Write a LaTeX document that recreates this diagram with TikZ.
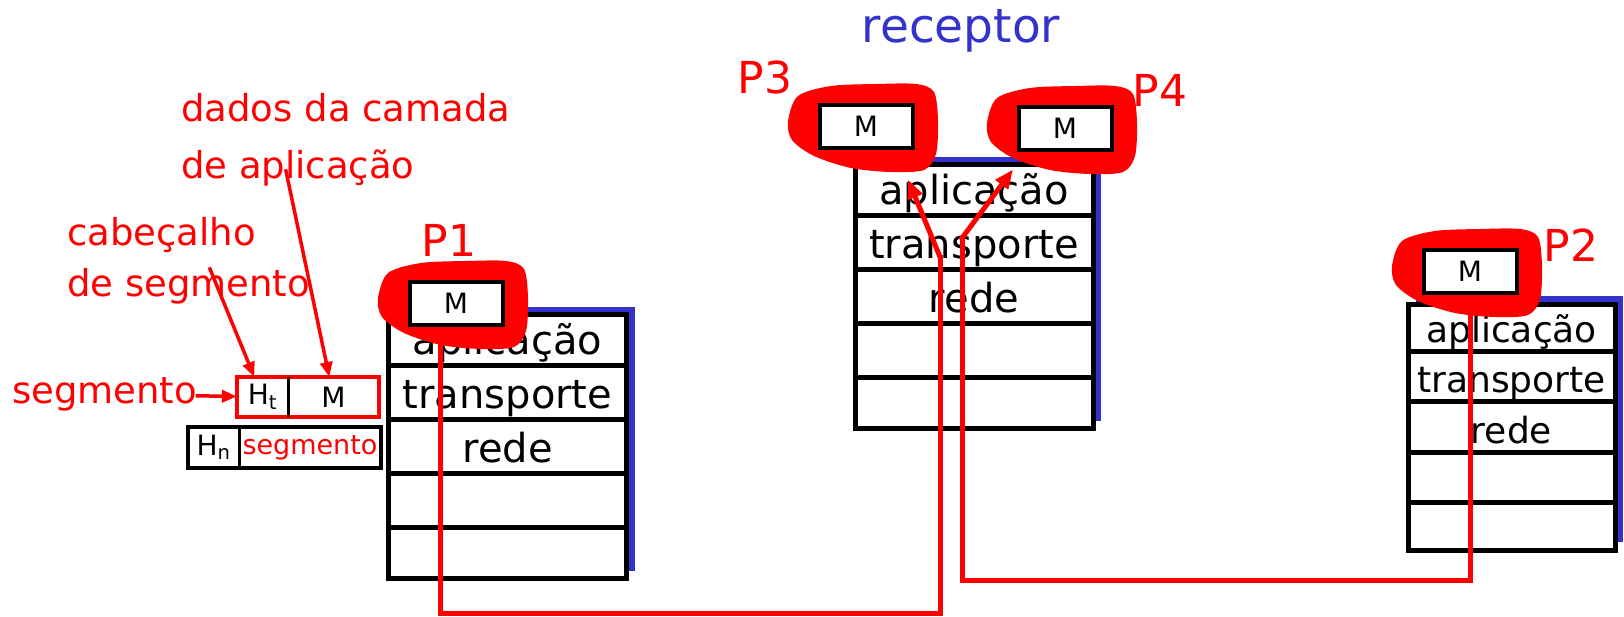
\documentclass[tikz,border=0pt]{standalone}
\usepackage{fontspec}
\setmainfont{DejaVu Sans}
\usepackage{tikz}
\usetikzlibrary{
  arrows.meta,
  chains,
  calc,
  positioning,
  scopes,
  shadows
}
\definecolor{stackblue}{RGB}{51,51,204}

\begin{document}
\begin{tikzpicture}[
      x=1pt, y=-1pt,
      stack/.style={
         rectangle,
         draw=black,
         line width=5pt,
         fill=white,
         minimum width=238pt,
         minimum height=264pt,
         inner sep=0pt,
         general shadow={fill=stackblue, shadow xshift=8pt, shadow yshift=8pt}
      },
      small stack/.style={
         stack,
         minimum width=207pt,
         minimum height=246pt
      },
      rowline/.style={line width=5pt},
      layertext/.style={inner sep=0pt, anchor=base},
      msg/.style={
         rectangle,
         draw=black,
         line width=4pt,
         fill=white,
         minimum width=93pt,
         minimum height=43pt,
         inner sep=0pt,
         font=\fontsize{28}{28}\selectfont
      },
      blob/.style={fill=red},
      proc/.style={text=red, inner sep=0pt, font=\fontsize{44}{44}\selectfont},
      note/.style={text=red, inner sep=0pt, align=left},
      cell/.style={
         rectangle,
         minimum height=40pt,
         inner sep=0pt,
         outer sep=0pt,
         font=\fontsize{28}{28}\selectfont
      },
      point/.style={coordinate},
      every join/.style={draw=red, line width=5pt, line cap=rect},
      tip/.style={-{Triangle[length=19pt,width=15pt]}},
      note tip/.style={-{Triangle[length=15pt,width=12pt]}, line width=3.5pt},
      vh path/.style={to path={|- (\tikztotarget)}},
    ]
    \useasboundingbox (0,0) rectangle (1624,616);
    % where the sockets sit
    \coordinate (c1) at (456,303);
    \coordinate (c2) at (1470,271);
    \coordinate (c3) at (866,126);
    \coordinate (c4) at (1065,128);

    % protocol stacks
    \node (s1) [stack] at (507.5,446.5) {};
    \node (s3) [stack] at (974,296.5) {};
    \node (s2) [small stack] at (1511.5,427) {};
    \foreach \st/\fs/\off in {s1/40/11,s3/40/11,s2/36/9} {
       \foreach \i in {1,...,4}
          \draw[rowline] ($(\st.north west)!\i/5!(\st.south west)$) -- ($(\st.north east)!\i/5!(\st.south east)$);
       \foreach \lbl [count=\i, evaluate=\i as \k using \i/5] in {aplicação,transporte,rede}
          \node (\st\i) [layertext, font=\fontsize{\fs}{\fs}\selectfont] at ($(\st.north)!\k!(\st.south)+(0,-\off)$) {\lbl};
    }

    % red marks round the sockets
    \foreach \pos in {c1,c2,c3,c4}
       \fill[blob, shift={(\pos)}] plot[smooth cycle] coordinates {(-78,-5) (-68,-30) (-35,-40) (10,-42) (50,-42) (68,-34) (72,-5) (70,28) (58,44) (25,46) (-15,42) (-52,30) (-74,14)};

    \node (m1) [msg] at (c1) {M};
    \node (m2) [msg] at (c2) {M};
    \node (m3) [msg] at (c3) {M};
    \node (m4) [msg] at (c4) {M};

    \node (p1) [proc] at (449,240) {P1};
    \node (p2) [proc] at (1571,245) {P2};
    \node (p3) [proc] at (765,77) {P3};
    \node (p4) [proc] at (1160,90) {P4};
    \node (rcv) [text=stackblue, font=\fontsize{47}{47}\selectfont] at (961,31) {receptor};

    % segment and datagram
    \node (ht) [cell, minimum width=51pt] at (262.5,397) {H\textsubscript{t}};
    \node (sm) [cell, minimum width=91pt, right=0pt of ht] {M};
    \draw[line width=4pt, red] (ht.north west) rectangle (sm.south east);
    \draw[line width=3pt] (ht.north east) -- (ht.south east);
    \node (hn) [cell, minimum width=51pt, minimum height=41pt] at (213.5,447.5) {H\textsubscript{n}};
    \node (sg) [cell, minimum width=142pt, minimum height=41pt, right=0pt of hn, text=red, font=\fontsize{27}{27}\selectfont] {segmento};
    \draw[line width=4pt] (hn.north west) rectangle (sg.south east);
    \draw[line width=3pt] (hn.north east) -- (hn.south east);

    \node (n1) [note, anchor=north west, font=\fontsize{37}{57}\selectfont] at (181,93) {dados da camada\\de aplicação};
    \node (n2) [note, anchor=north west, font=\fontsize{37}{51}\selectfont] at (67,217) {cabeçalho\\de segmento};
    \node (n3) [note, anchor=west, font=\fontsize{37}{37}\selectfont] at (12,394) {segmento};
    \node (a1) [point] at (210,269) {};
    \node (a2) [point] at (286,171) {};

    \node (p1out) [point] at ($(m1.south)+(-16,8)$) {};
    \node (q2) [point] at (940,613) {};
    \node (q3) [point] at (940,257) {};
    \node (q4) [point] at ($(m3.south)+(42,30)$) {};
    \node (p2out) [point] at ($(m2.south)+(0,6)$) {};
    \node (r2) [point] at (962,580) {};
    \node (r3) [point] at (962,238) {};
    \node (r4) [point] at ($(m4.south)+(-52,18)$) {};

  { [start chain]
       \chainin (n3);
       \chainin (ht)    [join=by note tip];
  }
  { [start chain]
       \chainin (a1);
       \chainin (ht)    [join=by note tip];
  }
  { [start chain]
       \chainin (a2);
       \chainin (sm)    [join=by note tip];
  }
  { [start chain]
       \chainin (p1out);
       \chainin (q2)    [join=by vh path];
       \chainin (q3)    [join];
       \chainin (q4)    [join=by tip];
  }
  { [start chain]
       \chainin (p2out);
       \chainin (r2)    [join=by vh path];
       \chainin (r3)    [join];
       \chainin (r4)    [join=by tip];
  }
\end{tikzpicture}
\end{document}
